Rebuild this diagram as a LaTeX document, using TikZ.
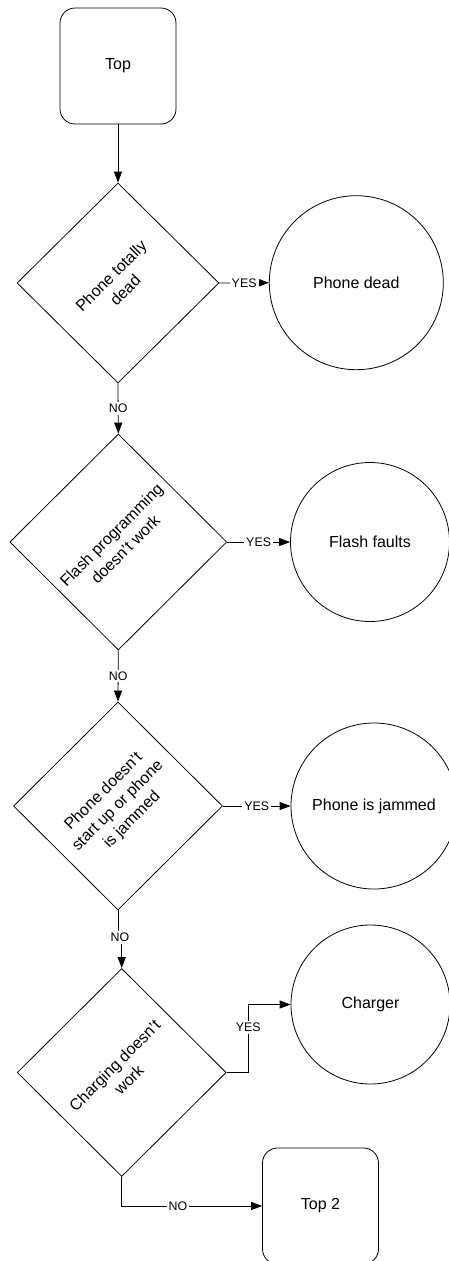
\documentclass[tikz,border=0pt]{standalone}
\usepackage{fontspec}
\setmainfont{Liberation Sans}
\usetikzlibrary{shapes.geometric,arrows.meta}
\begin{document}
\begin{tikzpicture}[x=1pt,y=-1pt,
 every node/.style={font=\fontsize{16}{18}\selectfont},
 box/.style={draw, rounded corners=15pt, minimum width=116pt, minimum height=116pt, inner sep=0pt},
 dia/.style={draw, diamond, inner sep=0pt},
 circ/.style={draw, circle, inner sep=0pt},
 dtext/.style={rotate=45, align=center, inner sep=0pt, font=\fontsize{16}{20}\selectfont},
 lbl/.style={fill=white, inner sep=2pt, font=\fontsize{12.4}{14}\selectfont},
 arr/.style={-{Triangle[length=11pt,width=8pt]}},
 line width=0.8pt]
\fill[white] (0,0) rectangle (449,1261);
\useasboundingbox (0,0) rectangle (449,1261);

\node[box] (top) at (118,66) {Top};

\node[dia, minimum width=202pt, minimum height=200pt] (d1) at (118,283) {};
\node[dtext] (t1) at (d1.center) {Phone totally\\dead};
\node[circ, minimum size=174pt] (c1) at (356.3,282.7) {Phone dead};

\node[dia, minimum width=217pt, minimum height=216pt] (d2) at (118.3,542) {};
\node[dtext] (t2) at (d2.center) {Flash programming\\doesn't work};
\node[circ, minimum size=159pt] (c2) at (370,542) {Flash faults};

\node[dia, minimum width=209pt, minimum height=208pt] (d3) at (118,806) {};
\node[dtext] (t3) at (d3.center) {Phone doesn't\\start up or phone\\is jammed};
\node[circ, minimum size=166pt] (c3) at (374,806) {Phone is jammed};

\node[dia, minimum width=209pt, minimum height=208pt] (d4) at (121.7,1072.5) {};
\node[dtext] (t4) at (d4.center) {Charging doesn't\\work};
\node[circ, minimum size=159pt] (c4) at (370.5,1004.5) {Charger};

\node[box] (top2) at (320.5,1206) {Top 2};

\draw[arr] (top.south) -- (d1.north);
\draw[arr] (d1.east) -- node[lbl] {YES} (c1.west);
\draw[arr] (d1.south) -- node[lbl] {NO} (d2.north);
\draw[arr] (d2.east) -- node[lbl] {YES} (c2.west);
\draw[arr] (d2.south) -- node[lbl] {NO} (d3.north);
\draw[arr] (d3.east) -- node[lbl] {YES} (c3.west);
\draw[arr] (d3.south) -- ++(0,27) -| node[lbl, pos=0.25] {NO} (d4.north);
\draw[arr] (d4.east) -- ++(21.7,0) |- node[lbl, pos=0.33] {YES} (c4.west);
\draw[arr] (d4.south) |- node[lbl, pos=0.7] {NO} (top2.west);
\end{tikzpicture}
\end{document}
